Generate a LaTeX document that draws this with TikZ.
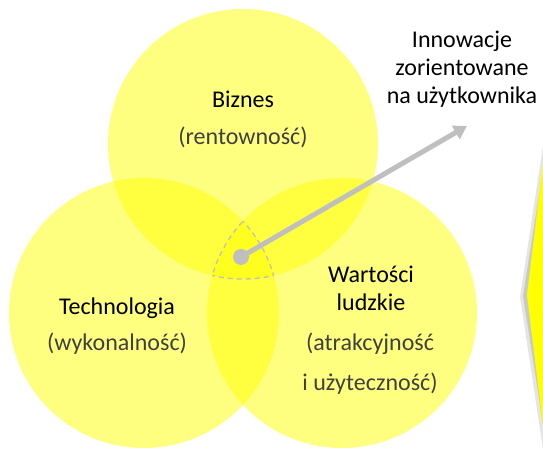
\documentclass[tikz,border=0pt]{standalone}
\usepackage{fontspec}
\setmainfont{Carlito}
\usetikzlibrary{positioning,arrows.meta}

\definecolor{vennyellow}{HTML}{FFFF00}
\definecolor{pointgray}{HTML}{BFBFBF}
\definecolor{notegray}{HTML}{404040}

\begin{document}
\begin{tikzpicture}[
    x=1pt, y=-1pt,
    font=\fontsize{24}{28}\selectfont,
    venn/.style={circle, fill=vennyellow, fill opacity=0.5, minimum size=270pt, inner sep=0pt},
    title/.style={text=black, align=center, inner sep=1pt},
    note/.style={text=notegray, align=center, inner sep=1pt},
    pointer/.style={-{Triangle[length=13pt, width=15pt]}, line width=5pt, draw=pointgray},
    overlap/.style={dashed, dash pattern=on 5pt off 4pt, line width=1.3pt, draw=pointgray}
]
\useasboundingbox (0,0) rectangle (543,449);
\clip (0,0) rectangle (543,449);

% side shape with its soft shadow
\fill[black, opacity=0.10] (543,146) -- (520,297) -- (543,449) -- (560,449) -- (560,146) -- cycle;
\fill[black, opacity=0.12] (546,150) -- (523,296) -- (546,443) -- (560,443) -- (560,150) -- cycle;
\fill[vennyellow] (545,147) -- (527,295) -- (545,442) -- (560,442) -- (560,147) -- cycle;

% three circles
\node[venn] (biz) at (243,144) {};
\node[venn] (tech) at (144,313) {};
\node[venn] (human) at (342,313) {};

% outline of the common part
\foreach \a/\b/\c in {biz/tech/human, tech/human/biz, human/biz/tech} {
  \begin{scope}
    \clip (\b.center) circle[radius=135pt];
    \clip (\c.center) circle[radius=135pt];
    \draw[overlap] (\a.center) circle[radius=135pt];
  \end{scope}
}

% labels
\node[title] (biztitle) at (243,99) {Biznes};
\node[note] (biznote) at (243,137) {(rentowność)};
\node[title] (techtitle) at (117,308) {Technologia};
\node[note] (technote) at (117,344) {(wykonalność)};
\node[title] (humantitle) at (371,288) {Wartości\\ludzkie};
\node[note] (humannote) at (370,344) {(atrakcyjność};
\node[note] (humannote2) at (370,384) {i użyteczność)};

\node[title] (innov) at (462,69) {Innowacje\\zorientowane\\na użytkownika};

% pointer from the centre
\node[circle, fill=pointgray, minimum size=16pt, inner sep=0pt] (dot) at (241,257) {};
\coordinate (tip) at (467,126);
\draw[pointer] (dot.center) -- (tip);

\end{tikzpicture}
\end{document}
